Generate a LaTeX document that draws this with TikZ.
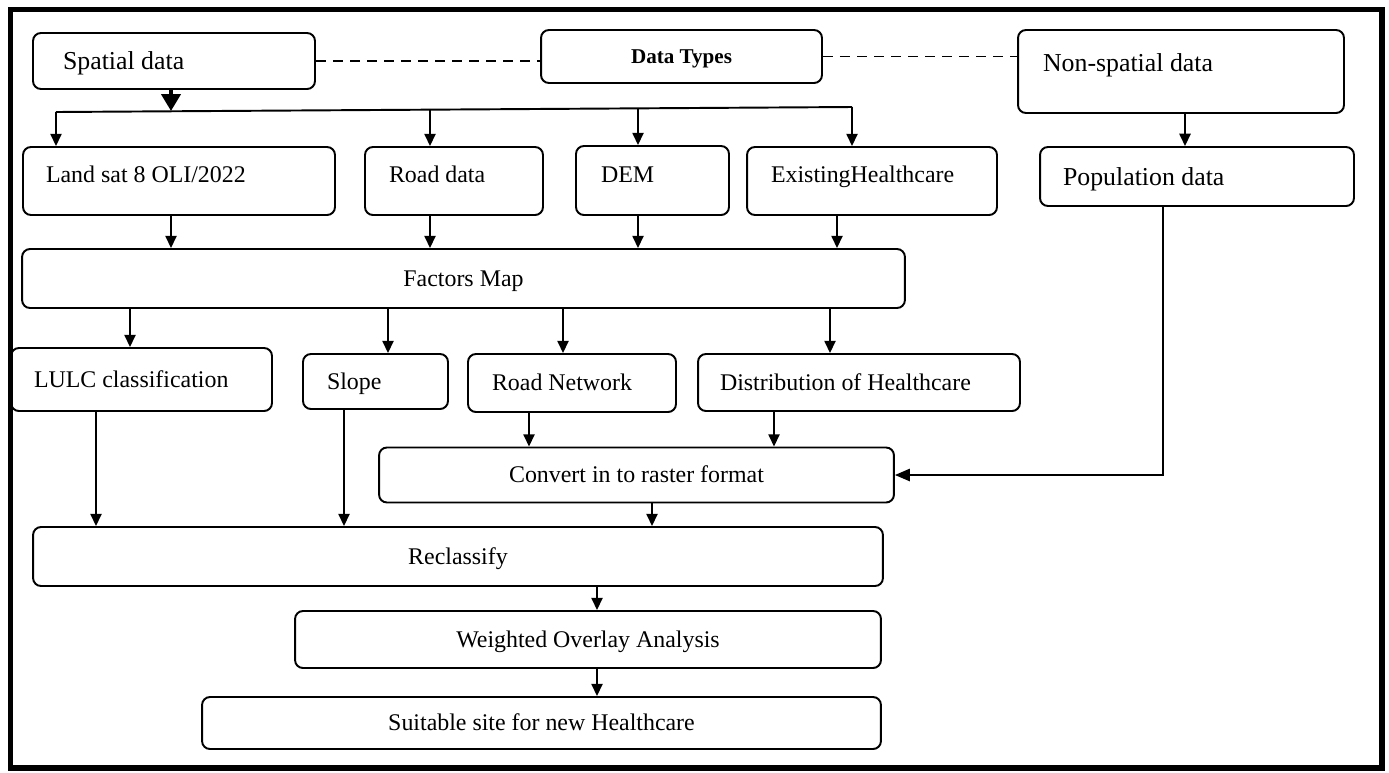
\documentclass[tikz,border=0pt]{standalone}
\usepackage{fontspec}
\setmainfont{Liberation Serif}
\usepackage{tikz}
\usetikzlibrary{arrows.meta}

\newcommand\fs[1]{\fontsize{#1}{#1}\selectfont}

\begin{document}
\begin{tikzpicture}[x=0.02cm, y=-0.02cm,
  box/.style={draw, rounded corners=4.5pt, line width=1.1pt, inner sep=0pt,
    font=\fs{13.6}, text height=9.3pt, text depth=0.3pt},
  big/.style={font=\fs{14.7}, text height=9.8pt, text depth=0pt},
  lft/.style={align=flush left, text width=#1},
  toprow/.style={box, text depth=7.1pt, minimum height=1.36cm},
  arr/.style={line width=1pt, -{Triangle[length=7pt,width=6.4pt]}},
  fat/.style={line width=2.2pt, -{Triangle[length=9.6pt,width=10.8pt]}},
  link/.style={line width=1.1pt, dash pattern=on 5.7pt off 4pt}]

  \useasboundingbox (0,0) rectangle (1389,772);
  \draw[line width=3pt] (10.5,9.5) rectangle (1382,768);

  % data types
  \node[box, big, lft=4.44cm, minimum width=5.64cm, minimum height=1.12cm] (spatial) at (174,61) {Spatial data};
  \node[box, font=\fs{12}\bfseries, text height=8.3pt, minimum width=5.62cm, minimum height=1.06cm] (types) at (681.5,56.5) {Data Types};
  \node[box, big, text height=10pt, text depth=10pt, lft=5.52cm, minimum width=6.52cm, minimum height=1.66cm] (nonspat) at (1181,71.5) {Non-spatial data};

  \draw[link] (spatial.east) -- (spatial.east -| types.west);
  \draw[link] (types.east) -- (types.east -| nonspat.west);

  % input layers
  \node[toprow, lft=5.32cm, minimum width=6.24cm] (landsat) at (179,181) {Land sat 8 OLI/2022};
  \node[toprow, lft=2.6cm, minimum width=3.56cm] (road) at (454,181) {Road data};
  \node[toprow, lft=2.06cm, minimum width=3.06cm, minimum height=1.38cm] (dem) at (652.5,180.5) {DEM};
  \node[toprow, lft=4.04cm, minimum width=5cm] (existing) at (872,181) {ExistingHealthcare};
  \node[box, big, lft=5.36cm, minimum width=6.28cm, minimum height=1.18cm] (population) at (1197,176.5) {Population data};

  \coordinate (b0) at (171,111);
  \coordinate (b1) at (56,112);
  \coordinate (b2) at (430,110);
  \coordinate (b3) at (638,108.3);
  \coordinate (b4) at (852,107);
  \draw[fat] (b0 |- spatial.south) -- (b0);
  \draw[line width=1.1pt] (b1) -- (b4);
  \foreach \b/\n in {b1/landsat,b2/road,b3/dem,b4/existing}
    \draw[arr] (\b) -- (\b |- \n.north);
  \draw[arr] (1185,0 |- nonspat.south) -- (1185,0 |- population.north);

  % factors
  \node[box, minimum width=17.66cm, minimum height=1.18cm] (factors) at (463.5,278.5) {Factors Map};
  \foreach \x/\n in {171/landsat,430/road,638/dem,837/existing}
    \draw[arr] (\x,0 |- \n.south) -- (\x,0 |- factors.north);

  \node[box, lft=4.3cm, minimum width=5.22cm, minimum height=1.26cm] (lulc) at (141.5,379.5) {LULC classification};
  \node[box, lft=1.94cm, minimum width=2.9cm, minimum height=1.1cm] (slope) at (375.5,381.5) {Slope};
  \node[box, lft=3.2cm, minimum width=4.16cm, minimum height=1.16cm] (roadnet) at (572,383) {Road Network};
  \node[box, lft=5.56cm, minimum width=6.44cm, minimum height=1.14cm] (distrib) at (859,382.5) {Distribution of Healthcare};
  \foreach \x/\n in {130/lulc,388/slope,563/roadnet,830/distrib}
    \draw[arr] (\x,0 |- factors.south) -- (\x,0 |- \n.north);

  % processing
  \node[box, minimum width=10.3cm, minimum height=1.1cm] (convert) at (636.5,475) {Convert in to raster format};
  \foreach \x/\n in {529/roadnet,774/distrib}
    \draw[arr] (\x,0 |- \n.south) -- (\x,0 |- convert.north);
  \draw[arr, -{Triangle[length=8.5pt,width=7pt]}] (1163,0 |- population.south) |- (convert.east);

  \node[box, minimum width=17cm, minimum height=1.18cm] (reclass) at (458,556.5) {Reclassify};
  \foreach \x/\n in {96/lulc,344/slope,652/convert}
    \draw[arr] (\x,0 |- \n.south) -- (\x,0 |- reclass.north);

  \node[box, minimum width=11.72cm, minimum height=1.14cm] (weighted) at (588,639.5) {Weighted Overlay Analysis};
  \node[box, minimum width=13.58cm, minimum height=1.04cm] (suitable) at (541.5,723) {Suitable site for new Healthcare};
  \draw[arr] (597,0 |- reclass.south) -- (597,0 |- weighted.north);
  \draw[arr] (597,0 |- weighted.south) -- (597,0 |- suitable.north);
\end{tikzpicture}
\end{document}
